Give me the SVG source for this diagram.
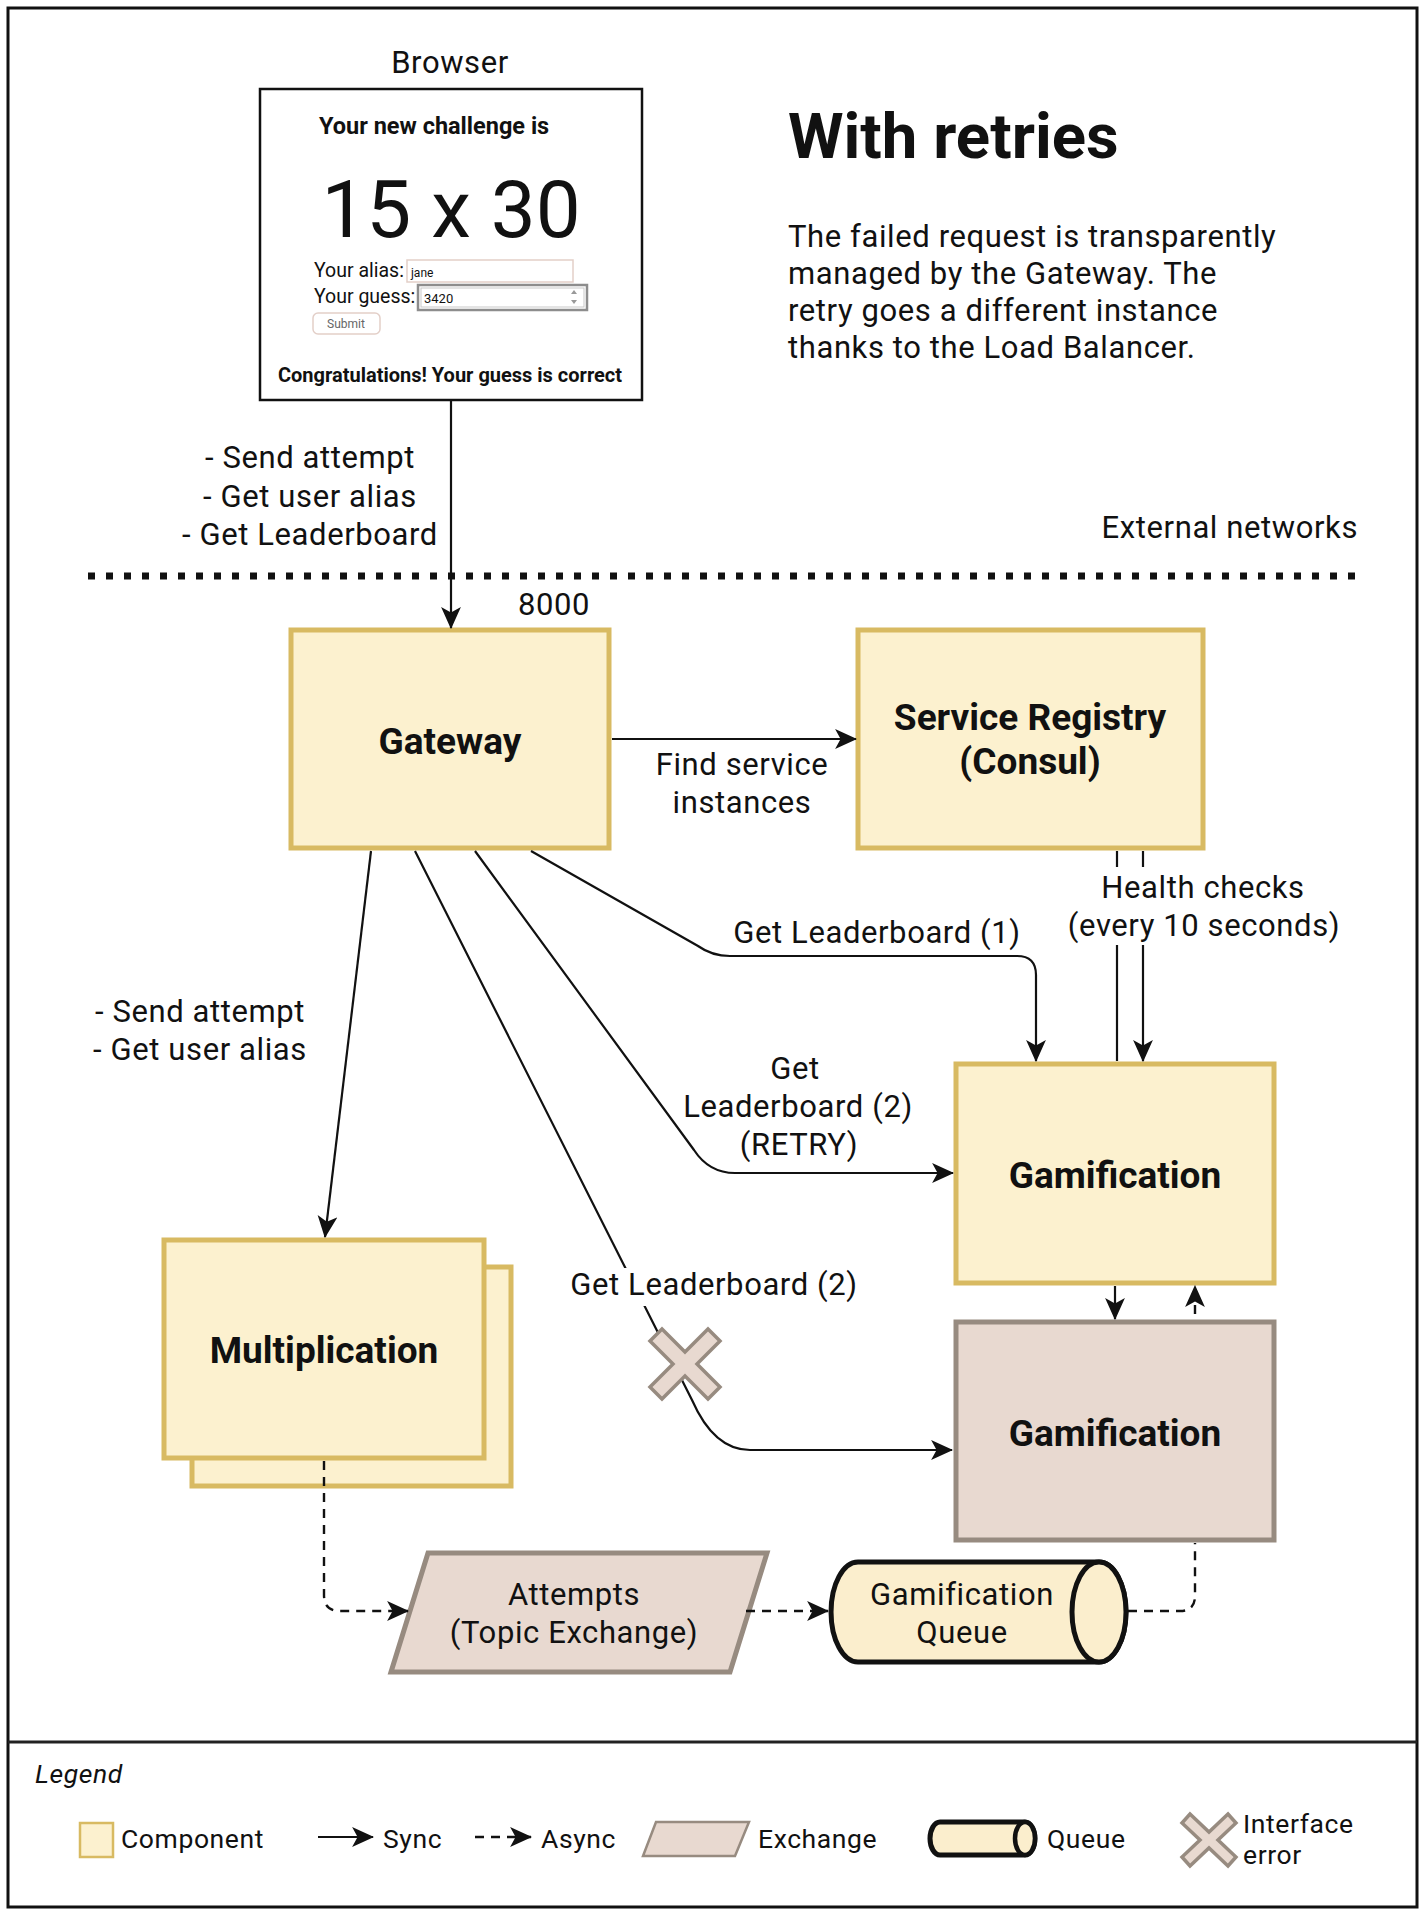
<svg xmlns="http://www.w3.org/2000/svg" width="1425" height="1917" viewBox="0 0 1425 1917">
<defs>
<marker id="arr" markerUnits="userSpaceOnUse" viewBox="0 0 20 18" refX="19" refY="9" markerWidth="22" markerHeight="20" orient="auto"><path d="M0,0 L20,9 L0,18 L5,9 Z" fill="#111"/></marker>
<style>
.t{font-family:Roboto,"Liberation Sans",sans-serif;fill:#111}
.lbl{font-family:Roboto,"Liberation Sans",sans-serif;font-size:31px;letter-spacing:0.6px;fill:#111}
.mid{text-anchor:middle}
.node{font-family:Roboto,"Liberation Sans",sans-serif;font-weight:bold;font-size:37px;fill:#111;text-anchor:middle}
.leg{font-family:Roboto,"Liberation Sans",sans-serif;font-size:26.5px;letter-spacing:0.6px;fill:#111}
.comp{fill:#fcf1cf;stroke:#d8ba62;stroke-width:5}
.pink{fill:#e8d9d0;stroke:#978b80;stroke-width:5}
.sync{fill:none;stroke:#111;stroke-width:2.2;marker-end:url(#arr)}
.async{fill:none;stroke:#111;stroke-width:2.4;stroke-dasharray:9 7;marker-end:url(#arr)}
.dash{fill:none;stroke:#111;stroke-width:2.4;stroke-dasharray:9 7}
.plain{fill:none;stroke:#111;stroke-width:2.2}
.xerr{fill:#e8d9d0;stroke:#978b80;stroke-width:3.5;stroke-linejoin:miter}
.queue{fill:#fbeecd;stroke:#111;stroke-width:5}
</style>
</defs>
<rect width="1425" height="1917" fill="#fff"/>
<rect x="8" y="8" width="1409" height="1899" fill="none" stroke="#111" stroke-width="3"/>
<line x1="8" y1="1742" x2="1417" y2="1742" stroke="#222" stroke-width="3"/>

<!-- title and description -->
<g id="title">
<text class="t" x="788" y="158" font-size="63.5" font-weight="bold">With retries</text>
<text class="lbl" x="788" y="247">The failed request is transparently</text>
<text class="lbl" x="788" y="284">managed by the Gateway. The</text>
<text class="lbl" x="788" y="321">retry goes a different instance</text>
<text class="lbl" x="788" y="358">thanks to the Load Balancer.</text>
</g>

<!-- network boundary -->
<g id="boundary">
<line x1="88" y1="576" x2="1366" y2="576" stroke="#111" stroke-width="7" stroke-dasharray="7 11"/>
<text class="lbl" x="1358" y="538" text-anchor="end">External networks</text>
<text class="lbl" x="518" y="615">8000</text>
</g>

<!-- browser -->
<g id="browser">
<text class="lbl mid" x="450" y="73">Browser</text>
<rect x="260" y="89" width="382" height="311" fill="#fff" stroke="#111" stroke-width="2.5"/>
<text class="t" x="319" y="134" font-size="23.5" font-weight="bold">Your new challenge is</text>
<text class="t" x="451" y="237" font-size="80" text-anchor="middle">15 x 30</text>
<text class="t" x="314" y="277" font-size="19.5">Your alias:</text>
<rect x="407" y="260" width="166" height="22" fill="#fff" stroke="#e3cfc8" stroke-width="1.5"/>
<text class="t" x="411" y="277" font-size="12">jane</text>
<text class="t" x="314" y="303" font-size="19.5">Your guess:</text>
<rect x="418" y="285" width="169" height="25" fill="#fff" stroke="#8d8d8d" stroke-width="2.5"/>
<rect x="421" y="288" width="163" height="19" fill="none" stroke="#c9c9c9" stroke-width="1"/>
<text class="t" x="424" y="303" font-size="13">3420</text>
<path d="M571 294 L574 290 L577 294 Z M571 300 L574 304 L577 300 Z" fill="#999"/>
<rect x="313" y="313" width="67" height="21" rx="5" fill="#fff" stroke="#e3cfc8" stroke-width="1.5"/>
<text class="t" x="346" y="328" font-size="12" text-anchor="middle" style="fill:#666">Submit</text>
<text class="t" x="450" y="382" font-size="20" font-weight="bold" text-anchor="middle">Congratulations! Your guess is correct</text>
</g>

<g id="gateway">
<rect class="comp" x="291" y="630" width="318" height="218"/>
<text class="node" x="450" y="754">Gateway</text>
</g>

<g id="service-registry">
<rect class="comp" x="858" y="630" width="345" height="218"/>
<text class="node" x="1030" y="730">Service Registry</text>
<text class="node" x="1030" y="774">(Consul)</text>
</g>

<g id="multiplication">
<rect class="comp" x="192" y="1267" width="319" height="219"/>
<rect class="comp" x="164" y="1240" width="320" height="218"/>
<text class="node" x="324" y="1363">Multiplication</text>
</g>

<g id="gamification-1">
<rect class="comp" x="956" y="1064" width="318" height="219"/>
<text class="node" x="1115" y="1188">Gamification</text>
</g>

<g id="gamification-2">
<rect class="pink" x="956" y="1322" width="318" height="218"/>
<text class="node" x="1115" y="1446">Gamification</text>
</g>

<g id="attempts-exchange">
<polygon class="pink" stroke-width="4" points="428,1553 767,1553 730,1672 391,1672"/>
<text class="lbl mid" x="574" y="1605">Attempts</text>
<text class="lbl mid" x="574" y="1643">(Topic Exchange)</text>
</g>

<g id="gamification-queue">
<path class="queue" d="M858 1562 H1099 A27 50 0 0 1 1099 1662 H858 A27 50 0 0 1 858 1562 Z"/>
<ellipse cx="1099" cy="1612" rx="27" ry="50" fill="#fbeecd" stroke="#111" stroke-width="5"/>
<text class="lbl mid" x="962" y="1605">Gamification</text>
<text class="lbl mid" x="962" y="1643">Queue</text>
</g>

<!-- connectors -->
<g id="connectors">
<path class="sync" d="M451 401 V628"/>
<path class="sync" d="M612 739 H856" stroke-width="3"/>
<path class="sync" d="M371 851 L325 1237"/>
<path class="sync" d="M531 851 L698 946 Q712 956 730 956 H1017 Q1036 956 1036 975 V1061"/>
<path class="sync" d="M475 851 L694 1150 Q709 1173 735 1173 H953"/>
<path class="sync" d="M415 851 L692 1400 Q714 1450 750 1450 H952"/>
<path class="plain" d="M1117 851 V1061"/>
<path class="sync" d="M1143 851 V1061"/>
<path class="sync" d="M1115 1286 V1319"/>
<path class="async" d="M324 1461 V1595 Q324 1611 340 1611 H408"/>
<path class="async" d="M746 1611 H828"/>
<path class="dash" d="M1128 1611 H1180 Q1195 1611 1195 1596 V1543"/>
<path class="async" d="M1195 1314 V1286"/>

<text class="lbl mid" x="310" y="468">- Send attempt</text>
<text class="lbl mid" x="310" y="507">- Get user alias</text>
<text class="lbl mid" x="310" y="545">- Get Leaderboard</text>

<text class="lbl mid" x="742" y="775">Find service</text>
<text class="lbl mid" x="742" y="813">instances</text>

<rect x="1066" y="867" width="276" height="78" fill="#fff"/>
<text class="lbl mid" x="1203" y="898">Health checks</text>
<text class="lbl mid" x="1204" y="936">(every 10 seconds)</text>

<text class="lbl mid" x="877" y="943">Get Leaderboard (1)</text>

<text class="lbl mid" x="200" y="1022">- Send attempt</text>
<text class="lbl mid" x="200" y="1060">- Get user alias</text>

<text class="lbl mid" x="795" y="1079">Get</text>
<text class="lbl mid" x="798" y="1117">Leaderboard (2)</text>
<text class="lbl mid" x="799" y="1155">(RETRY)</text>

<rect x="568" y="1268" width="296" height="38" fill="#fff"/>
<text class="lbl mid" x="714" y="1295">Get Leaderboard (2)</text>
</g>

<g id="interface-error">
<polygon class="xerr" transform="translate(685,1364)" points="-35,-23 -23,-35 0,-12 23,-35 35,-23 12,0 35,23 23,35 0,12 -23,35 -35,23 -12,0"/>
</g>

<!-- legend -->
<g id="legend">
<text class="leg" x="35" y="1783" font-style="italic">Legend</text>
<rect x="80" y="1823" width="33" height="34" fill="#fcf1cf" stroke="#d8ba62" stroke-width="2.5"/>
<text class="leg" x="121" y="1848">Component</text>
<path class="sync" d="M318 1837 H373" stroke-width="2.6"/>
<text class="leg" x="383" y="1848">Sync</text>
<path class="async" d="M475 1837 H531"/>
<text class="leg" x="541" y="1848">Async</text>
<polygon points="656,1822 749,1822 735,1856 643,1856" fill="#e8d9d0" stroke="#978b80" stroke-width="2.5"/>
<text class="leg" x="758" y="1848">Exchange</text>
<path d="M940 1822 H1025 A10 16.5 0 0 1 1025 1855 H940 A10 16.5 0 0 1 940 1822 Z" class="queue" stroke-width="4.5"/>
<ellipse cx="1025" cy="1838.5" rx="10" ry="16.5" fill="#fbeecd" stroke="#111" stroke-width="4.5"/>
<text class="leg" x="1047" y="1848">Queue</text>
<polygon class="xerr" stroke-width="3" transform="translate(1209,1840)" points="-27,-17 -19,-26 0,-8 19,-26 27,-17 9,0 27,17 19,26 0,8 -19,26 -27,17 -9,0"/>
<text class="leg" x="1243" y="1833">Interface</text>
<text class="leg" x="1243" y="1864">error</text>
</g>
</svg>
